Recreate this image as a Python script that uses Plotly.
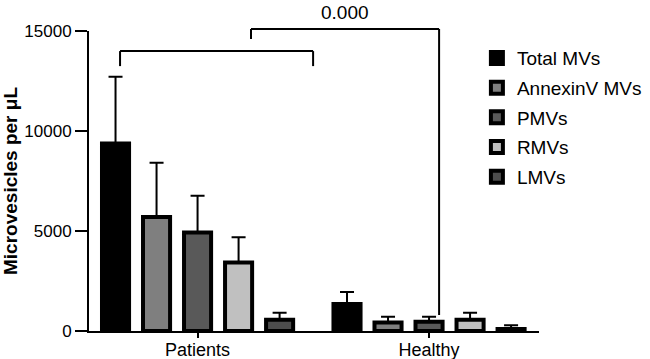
import plotly.graph_objects as go

groups = ["Patients", "Healthy"]
series = ["Total MVs", "AnnexinV MVs", "PMVs", "RMVs", "LMVs"]
means = {
    "Total MVs":    [9380, 1350],
    "AnnexinV MVs": [5700, 430],
    "PMVs":         [4920, 460],
    "RMVs":         [3420, 560],
    "LMVs":         [560, 100],
}
errors = {
    "Total MVs":    [3335, 600],
    "AnnexinV MVs": [2717, 287],
    "PMVs":         [1847, 257],
    "RMVs":         [1263, 357],
    "LMVs":         [357, 183],
}
fills = ["#000000", "#7f7f7f", "#595959", "#c0c0c0", "#4d4d4d"]
p_label = "0.000"
y_ticks = [0, 5000, 10000, 15000]

fig = go.Figure()
for i, (name, col) in enumerate(zip(series, fills)):
    fig.add_trace(go.Bar(
        x=groups, y=means[name], name=name, legendgroup=name,
        marker=dict(color=col, line=dict(color="black", width=4)),
        error_y=dict(type="data", symmetric=False, array=errors[name],
                     arrayminus=[0, 0], color="black", thickness=2, width=7),
    ))

# significance brackets (paper coords)
blk = dict(color="black", width=2)
shapes = [
    dict(type="line", xref="paper", yref="paper", x0=0.069, x1=0.069, y0=0.883, y1=0.933, line=blk),
    dict(type="line", xref="paper", yref="paper", x0=0.069, x1=0.498, y0=0.933, y1=0.933, line=blk),
    dict(type="line", xref="paper", yref="paper", x0=0.498, x1=0.498, y0=0.933, y1=0.883, line=blk),
    dict(type="line", xref="paper", yref="paper", x0=0.36, x1=0.36, y0=0.973, y1=1.007, line=blk),
    dict(type="line", xref="paper", yref="paper", x0=0.36, x1=0.778, y0=1.007, y1=1.007, line=blk),
    dict(type="line", xref="paper", yref="paper", x0=0.778, x1=0.778, y0=1.007, y1=0.053, line=blk),
]

fig.update_layout(
    width=650, height=359,
    margin=dict(l=89, r=111, t=31, b=28, autoexpand=False),
    paper_bgcolor="white", plot_bgcolor="white",
    font=dict(family="Liberation Sans, Arial, sans-serif", color="black", size=18),
    barmode="group", bargap=0.114, bargroupgap=0.34,
    showlegend=True,
    legend=dict(x=0.862, y=0.973, xanchor="left", yanchor="top",
                font=dict(size=19, color="black"), bgcolor="rgba(0,0,0,0)",
                traceorder="grouped", tracegroupgap=2),
    shapes=shapes,
    annotations=[dict(text=p_label, xref="paper", yref="paper", x=0.569, y=1.063,
                      showarrow=False, xanchor="center", yanchor="middle",
                      font=dict(size=19, color="black"))],
    xaxis=dict(type="category", range=[-0.469, 1.475], showline=True, linecolor="black",
               linewidth=2, ticks="outside", ticklen=5, tickwidth=2, tickcolor="black",
               showgrid=False, zeroline=False, tickfont=dict(size=18), automargin=False,
               ticklabelstandoff=-4),
    yaxis=dict(range=[0, 15000], tickvals=y_ticks, ticktext=[str(v) for v in y_ticks],
               showline=True, linecolor="black", linewidth=2, ticks="outside", ticklen=12,
               tickwidth=2, tickcolor="black", showgrid=False, zeroline=False,
               tickfont=dict(size=17), automargin=False,
               title=dict(text="<b>Microvesicles per μL</b>", font=dict(size=19), standoff=3)),
)

fig.write_html("out.html", config={"displayModeBar": False},
               post_script="document.body.style.margin='0';document.body.style.overflow='hidden';")
